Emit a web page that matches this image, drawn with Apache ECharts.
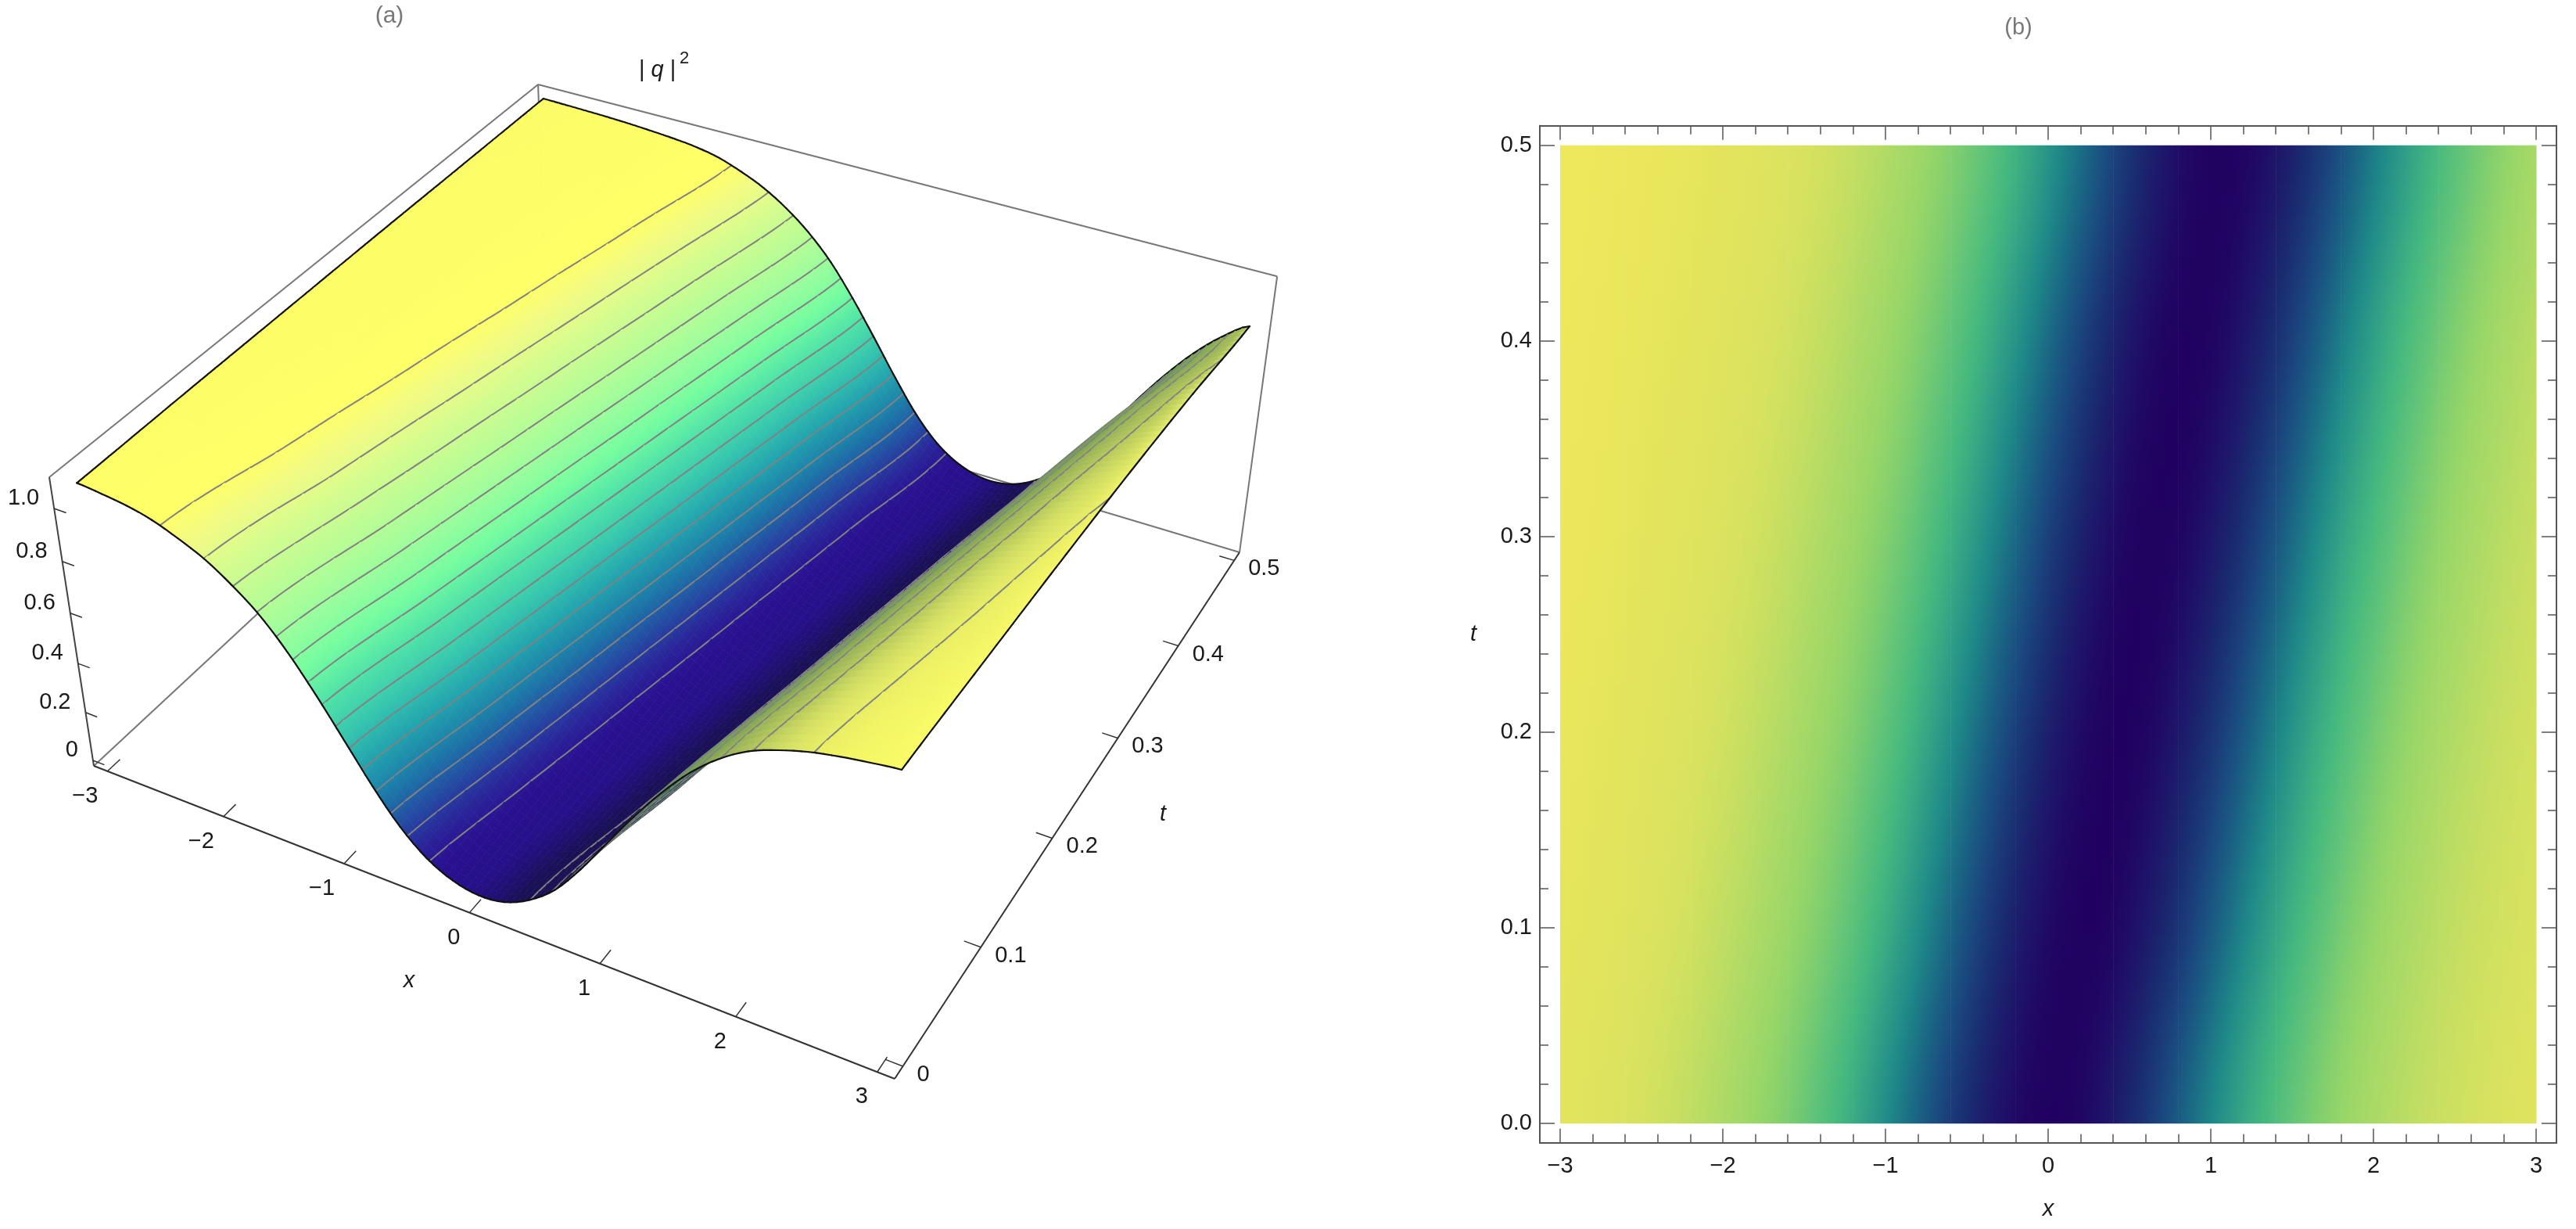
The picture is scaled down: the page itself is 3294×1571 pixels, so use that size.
<!DOCTYPE html>
<html>
<head>
<meta charset="utf-8">
<title>|q|^2 surface and density</title>
<script src="https://cdn.jsdelivr.net/npm/echarts@6/dist/echarts.min.js"></script>
<style>
    html, body { margin: 0; padding: 0; background: #fff; }
    #chart { width: 3294px; height: 1571px; }
</style>
</head>
<body>
<div id="chart"></div>
<script>
// values: |q|^2 on x (columns) and t (rows)
const xCols = [-3, -2.8, -2.6, -2.4, -2.2, -2, -1.8, -1.6, -1.4, -1.2, -1, -0.8, -0.6, -0.4, -0.2, 0, 0.2, 0.4, 0.6, 0.8, 1, 1.2, 1.4, 1.6, 1.8, 2, 2.2, 2.4, 2.6, 2.8, 3]
const tRows = [0, 0.1, 0.2, 0.3, 0.4, 0.5]
const qAtT00 = [1.079, 1.070, 1.058, 1.036, 1.000, 0.956, 0.893, 0.815, 0.709, 0.579, 0.436, 0.291, 0.165, 0.075, 0.023, 0.003, 0.016, 0.066, 0.148, 0.271, 0.414, 0.555, 0.684, 0.797, 0.885, 0.950, 0.991, 1.022, 1.043, 1.059, 1.072]
const qAtT01 = [1.085, 1.079, 1.071, 1.059, 1.038, 1.002, 0.959, 0.896, 0.819, 0.715, 0.586, 0.444, 0.299, 0.171, 0.079, 0.025, 0.004, 0.015, 0.063, 0.143, 0.265, 0.407, 0.548, 0.678, 0.792, 0.881, 0.947, 0.990, 1.021, 1.042, 1.058]
const qAtT02 = [1.089, 1.085, 1.079, 1.071, 1.060, 1.039, 1.004, 0.961, 0.900, 0.823, 0.720, 0.592, 0.451, 0.306, 0.177, 0.083, 0.027, 0.004, 0.014, 0.060, 0.139, 0.258, 0.399, 0.541, 0.671, 0.787, 0.877, 0.944, 0.988, 1.020, 1.041]
const qAtT03 = [1.093, 1.090, 1.085, 1.079, 1.072, 1.060, 1.040, 1.006, 0.963, 0.903, 0.827, 0.726, 0.599, 0.458, 0.313, 0.183, 0.087, 0.029, 0.005, 0.013, 0.057, 0.134, 0.251, 0.392, 0.534, 0.665, 0.781, 0.873, 0.941, 0.986, 1.018]
const qAtT04 = [1.095, 1.093, 1.090, 1.085, 1.080, 1.072, 1.061, 1.041, 1.008, 0.965, 0.907, 0.831, 0.732, 0.606, 0.465, 0.320, 0.189, 0.091, 0.031, 0.005, 0.012, 0.054, 0.130, 0.244, 0.385, 0.527, 0.659, 0.776, 0.869, 0.938, 0.984]
const qAtT05 = [1.097, 1.095, 1.093, 1.090, 1.086, 1.080, 1.073, 1.062, 1.043, 1.010, 0.968, 0.910, 0.835, 0.738, 0.613, 0.473, 0.328, 0.195, 0.095, 0.034, 0.006, 0.011, 0.051, 0.125, 0.238, 0.378, 0.520, 0.653, 0.770, 0.865, 0.935]
const qRows = [qAtT00, qAtT01, qAtT02, qAtT03, qAtT04, qAtT05]

const contourLevels = [0.068, 0.137, 0.205, 0.274, 0.342, 0.410, 0.479, 0.547, 0.615, 0.684, 0.752, 0.821, 0.889, 0.957, 1.026]

const xTicks = [-3, -2, -1, 0, 1, 2, 3]
const xTickLabels = ['\u22123', '\u22122', '\u22121', '0', '1', '2', '3']
const tTicks = [0, 0.1, 0.2, 0.3, 0.4, 0.5]
const tTickLabels = ['0', '0.1', '0.2', '0.3', '0.4', '0.5']
const zTicks = [0, 0.2, 0.4, 0.6, 0.8, 1]
const zTickLabels = ['0', '0.2', '0.4', '0.6', '0.8', '1.0']
const xMinorTicks = Array.from({ length: 31 }, (_, k) => -3 + k * 0.2)
const tMinorTicks = Array.from({ length: 26 }, (_, k) => k * 0.02)

// colour ramps, [value, colour]
const heatRamp = [[0, '#200060'], [0.04, '#1f1068'], [0.11, '#1a2a70'], [0.22, '#1a4c80'], [0.3, '#1a6484'], [0.425, '#1f8a88'], [0.55, '#35a585'], [0.64, '#45b87f'], [0.74, '#62c478'], [0.89, '#98d668'], [0.96, '#aeda66'], [1.035, '#cfe060'], [1.05, '#d6e260'], [1.08, '#e3e45c'], [1.097, '#eee85c']]
const litRamp = [[0, '#26108a'], [0.05, '#2a1090'], [0.1, '#2a249a'], [0.18, '#2353a4'], [0.25, '#1c7aa8'], [0.35, '#22a4ae'], [0.45, '#38c8ae'], [0.55, '#50e3a8'], [0.65, '#76fda0'], [0.75, '#9cfd9c'], [0.92, '#d3fc8f'], [0.99, '#f2fb83'], [1.03, '#ffff66'], [1.1, '#ffff66']]
const shadeRamp = [[0.02, '#1a1058'], [0.15, '#1a1050'], [0.3, '#26484f'], [0.5, '#3f7f50'], [0.7, '#5f9455'], [0.85, '#86a856'], [0.93, '#a6bc5a'], [1, '#cfdb5e'], [1.04, '#e4e964'], [1.075, '#f4f866']]

const FONT = '"Liberation Sans", Arial, sans-serif'
const INK = '#1a1a1a'

// box of panel (a) in data units, and the camera that flattens it onto the page
const xLo = -3.12, xHi = 3.12, tLo = -0.01, tHi = 0.51, zLo = -0.0232, zHi = 1.116
const camX = [890.8, 728.4, -61.4, 120]
const camY = [239.4, -443.8, -411.7, 979]
const camW = [-0.11644, 0.21371, -0.06994, 1]

const project = (x, t, z) => {
    const u = (x - xLo) / (xHi - xLo)
    const v = (t - tLo) / (tHi - tLo)
    const w = (z - zLo) / (zHi - zLo)
    const apply = c => c[0] * u + c[1] * v + c[2] * w + c[3]
    const d = apply(camW)
    return [apply(camX) / d, apply(camY) / d]
}

const clamp = (v, lo, hi) => Math.max(lo, Math.min(hi, v))

const catmull = (p0, p1, p2, p3, a) =>
    p1 + 0.5 * a * (p2 - p0 + a * (2 * p0 - 5 * p1 + 4 * p2 - p3 + a * (3 * (p1 - p2) + p3 - p0)))

// shading lookup between the values that were read
const qAt = (x, t) => {
    const fx = clamp((x + 3) / 0.2, 0, 30)
    const i = Math.min(Math.floor(fx), 29)
    const ft = clamp(t / 0.1, 0, 5)
    const j = Math.min(Math.floor(ft), 4)
    const rowAt = r => {
        const row = qRows[clamp(r, 0, 5)]
        return catmull(row[Math.max(i - 1, 0)], row[i], row[i + 1], row[Math.min(i + 2, 30)], fx - i)
    }
    return catmull(rowAt(j - 1), rowAt(j), rowAt(j + 1), rowAt(j + 2), ft - j)
}

const rampColor = (ramp, value) => {
    if (value <= ramp[0][0]) return ramp[0][1]
    for (let k = 1; k < ramp.length; k++) {
        if (value <= ramp[k][0]) {
            const f = (value - ramp[k - 1][0]) / (ramp[k][0] - ramp[k - 1][0])
            return echarts.color.lerp(f, [ramp[k - 1][1], ramp[k][1]])
        }
    }
    return ramp[ramp.length - 1][1]
}

const surfaceColor = (x, t) => {
    const z = qAt(x, t)
    const slope = (qAt(x + 0.03, t) - qAt(x - 0.03, t)) / 0.06
    const lit = clamp((0.22 - slope) / 0.3, 0, 1)
    return echarts.color.lerp(lit, [rampColor(shadeRamp, z), rampColor(litRamp, z)])
}

const heatCells = []
const surfaceCells = []
for (let j = 4; j >= 0; j--) {
    for (let i = 0; i < 30; i++) {
        const cell = [xCols[i], tRows[j], qRows[j][i], i, j]
        heatCells.push(cell)
        surfaceCells.push(cell)
    }
}

const renderHeatCell = (params, api) => {
    const x0 = api.value(0)
    const t0 = api.value(1)
    const strips = 25
    const dt = 0.1 / strips
    const children = []
    for (let s = 0; s < strips; s++) {
        const tMid = t0 + (s + 0.5) * dt
        const colorStops = [0, 0.25, 0.5, 0.75, 1].map(f => ({ offset: f, color: rampColor(heatRamp, qAt(x0 + f * 0.2, tMid)) }))
        const a = api.coord([x0, t0 + (s + 1) * dt])
        const b = api.coord([x0 + 0.2, t0 + s * dt])
        children.push({
            type: 'rect',
            shape: { x: a[0], y: a[1], width: b[0] - a[0] + 0.5, height: b[1] - a[1] + 0.5 },
            style: { fill: new echarts.graphic.LinearGradient(0, 0, 1, 0, colorStops) },
        })
    }
    return { type: 'group', children }
}

const renderSurfaceCell = (params, api) => {
    const x0 = api.value(0)
    const t0 = api.value(1)
    const i = api.value(3)
    const j = api.value(4)
    const nx = 4
    const nt = 14
    const dx = 0.2 / nx
    const dt = 0.1 / nt
    const page = (x, t, z) => api.coord(project(x, t, z))
    const edge = (a, b) => ({
        type: 'line',
        shape: { x1: a[0], y1: a[1], x2: b[0], y2: b[1] },
        style: { stroke: '#111', lineWidth: 2.2, lineCap: 'round' },
    })
    const children = []
    for (let a = nt - 1; a >= 0; a--) {
        for (let b = 0; b < nx; b++) {
            const xa = x0 + b * dx
            const xb = xa + dx
            const ta = t0 + a * dt
            const tb = ta + dt
            const tm = (ta + tb) / 2
            // corners run round the quad: near left, near right, far right, far left
            const corners = [[xa, ta], [xb, ta], [xb, tb], [xa, tb]].map(c => [c[0], c[1], qAt(c[0], c[1])])
            const pts = corners.map(c => page(c[0], c[1], c[2]))
            const from = page(xa, tm, qAt(xa, tm))
            const to = page(xb, tm, qAt(xb, tm))
            const fill = new echarts.graphic.LinearGradient(from[0], from[1], to[0], to[1], [
                { offset: 0, color: surfaceColor(xa, tm) },
                { offset: 1, color: surfaceColor(xb, tm) },
            ], true)
            children.push({
                type: 'polygon',
                shape: { points: pts },
                style: { fill, stroke: fill, lineWidth: 0.8 },
            })
            contourLevels.forEach(level => {
                const hits = []
                for (let k = 0; k < 4; k++) {
                    const p = corners[k]
                    const q = corners[(k + 1) % 4]
                    if ((p[2] - level) * (q[2] - level) < 0) {
                        const f = (level - p[2]) / (q[2] - p[2])
                        hits.push(page(p[0] + f * (q[0] - p[0]), p[1] + f * (q[1] - p[1]), level))
                    }
                }
                if (hits.length >= 2) {
                    children.push({
                        type: 'line',
                        shape: { x1: hits[0][0], y1: hits[0][1], x2: hits[1][0], y2: hits[1][1] },
                        style: { stroke: '#828282', lineWidth: 2, lineCap: 'round' },
                    })
                }
            })
            if (j === 4 && a === nt - 1) children.push(edge(pts[3], pts[2]))
            if (j === 0 && a === 0) children.push(edge(pts[0], pts[1]))
            if (i === 0 && b === 0) children.push(edge(pts[0], pts[3]))
            if (i === 29 && b === nx - 1) children.push(edge(pts[1], pts[2]))
        }
    }
    return { type: 'group', children }
}

// edges of the box: from, to, colour
const boxEdges = [
    [[xLo, tHi, zLo], [xLo, tLo, zLo], '#777'],
    [[xLo, tHi, zLo], [xHi, tHi, zLo], '#777'],
    [[xLo, tHi, zLo], [xLo, tHi, zHi], '#777'],
    [[xLo, tHi, zHi], [xLo, tLo, zHi], '#777'],
    [[xLo, tHi, zHi], [xHi, tHi, zHi], '#777'],
    [[xHi, tHi, zLo], [xHi, tHi, zHi], '#777'],
    [[xLo, tLo, zLo], [xLo, tLo, zHi], '#444'],
    [[xLo, tLo, zLo], [xHi, tLo, zLo], '#333'],
    [[xHi, tLo, zLo], [xHi, tHi, zLo], '#333'],
]

const onPlane = { xAxisIndex: 0, yAxisIndex: 0, silent: true, clip: false, progressive: 0 }

const boxSeries = {
    ...onPlane,
    type: 'custom',
    data: boxEdges.map((e, k) => [k]),
    renderItem: (params, api) => {
        const edge = boxEdges[api.value(0)]
        const a = api.coord(project(...edge[0]))
        const b = api.coord(project(...edge[1]))
        return {
            type: 'line',
            shape: { x1: a[0], y1: a[1], x2: b[0], y2: b[1] },
            style: { stroke: edge[2], lineWidth: 2 },
        }
    },
}

const tickSeries = (values, labels, from, to, label) => ({
    ...onPlane,
    type: 'custom',
    data: values.map((v, k) => [v, k]),
    renderItem: (params, api) => {
        const v = api.value(0)
        const a = api.coord(project(...from(v)))
        const b = api.coord(project(...to(v)))
        return {
            type: 'group',
            children: [
                {
                    type: 'line',
                    shape: { x1: a[0], y1: a[1], x2: b[0], y2: b[1] },
                    style: { stroke: '#333', lineWidth: 1.5 },
                },
                {
                    type: 'text',
                    style: {
                        x: a[0] + label.dx,
                        y: a[1] + label.dy,
                        text: labels[api.value(1)],
                        fill: INK,
                        fontFamily: FONT,
                        fontSize: 29,
                        align: label.align,
                        verticalAlign: 'middle',
                    },
                },
            ],
        }
    },
})

const plainAxis = {
    axisLine: { show: false },
    axisTick: { show: false },
    axisLabel: { show: false },
    splitLine: { show: false },
}
const hiddenX = { ...plainAxis, type: 'value', gridIndex: 0, min: 0, max: 1700, show: false }
const hiddenY = { ...plainAxis, type: 'value', gridIndex: 0, min: 0, max: 1571, inverse: true, show: false }

const frameLine = { show: true, onZero: false, lineStyle: { color: '#555', width: 2 } }
const tickLine = (values, length) => ({
    show: true,
    inside: true,
    length,
    customValues: values,
    lineStyle: { color: '#555', width: 1.5 },
})
const frameX = (position, values, length, labels) => ({
    type: 'value',
    gridIndex: 1,
    position,
    min: -3.125,
    max: 3.125,
    axisLine: frameLine,
    axisTick: tickLine(values, length),
    splitLine: { show: false },
    axisLabel: labels || { show: false },
})
const frameY = (position, values, length, labels) => ({
    type: 'value',
    gridIndex: 1,
    position,
    min: -0.01,
    max: 0.51,
    axisLine: frameLine,
    axisTick: tickLine(values, length),
    splitLine: { show: false },
    axisLabel: labels || { show: false },
})

const chart = echarts.init(document.getElementById('chart'))

chart.setOption({
    animation: false,
    backgroundColor: '#fff',
    grid: [
        { left: 0, top: 0, width: 1700, height: 1571 },
        { left: 1969, top: 160.7, width: 1300, height: 1300 },
    ],
    xAxis: [
        hiddenX,
        {
            ...frameX('bottom', xTicks, 18, {
                show: true,
                customValues: xTicks,
                margin: 16,
                color: INK,
                fontFamily: FONT,
                fontSize: 29,
                formatter: v => xTickLabels[xTicks.indexOf(v)],
            }),
            name: 'x',
            nameLocation: 'middle',
            nameGap: 85,
            nameTextStyle: { color: INK, fontFamily: FONT, fontSize: 29, fontStyle: 'italic', verticalAlign: 'middle' },
        },
        frameX('bottom', xMinorTicks, 11),
        frameX('top', xTicks, 18),
        frameX('top', xMinorTicks, 11),
    ],
    yAxis: [
        hiddenY,
        {
            ...frameY('left', tTicks, 19, {
                show: true,
                customValues: tTicks,
                margin: 10,
                color: INK,
                fontFamily: FONT,
                fontSize: 29,
                formatter: v => v.toFixed(1),
            }),
            name: 't',
            nameLocation: 'middle',
            nameGap: 81,
            nameRotate: 0,
            nameTextStyle: { color: INK, fontFamily: FONT, fontSize: 29, fontStyle: 'italic', verticalAlign: 'middle', padding: [0, 0, 20, 0] },
        },
        frameY('left', tMinorTicks, 11),
        frameY('right', tTicks, 19),
        frameY('right', tMinorTicks, 11),
    ],
    graphic: [
        { type: 'text', x: 498, y: 21, style: { text: '(a)', fill: '#777', fontFamily: FONT, fontSize: 30, align: 'center', verticalAlign: 'middle' } },
        { type: 'text', x: 2581, y: 36, style: { text: '(b)', fill: '#777', fontFamily: FONT, fontSize: 29, align: 'center', verticalAlign: 'middle' } },
        { type: 'text', x: 817, y: 90, style: { text: '| {i|q} |', fill: INK, fontFamily: FONT, fontSize: 29, verticalAlign: 'middle', rich: { i: { fontStyle: 'italic', fontFamily: FONT, fontSize: 29, fill: INK } } } },
        { type: 'text', x: 869, y: 75, style: { text: '2', fill: INK, fontFamily: FONT, fontSize: 22, verticalAlign: 'middle' } },
        { type: 'text', x: 523, y: 1254, style: { text: 'x', fill: INK, fontFamily: FONT, fontSize: 29, fontStyle: 'italic', align: 'center', verticalAlign: 'middle' } },
        { type: 'text', x: 1487, y: 1041, style: { text: 't', fill: INK, fontFamily: FONT, fontSize: 29, fontStyle: 'italic', align: 'center', verticalAlign: 'middle' } },
    ],
    series: [
        boxSeries,
        tickSeries(xTicks, xTickLabels, v => [v, tLo, zLo], v => [v, tLo + 0.012, zLo], { dx: -12, dy: 32, align: 'right' }),
        tickSeries(tTicks, tTickLabels, v => [xHi, v, zLo], v => [xHi - 0.12, v, zLo], { dx: 18, dy: 11, align: 'left' }),
        tickSeries(zTicks, zTickLabels, v => [xLo, tLo, v], v => [xLo + 0.1, tLo, v], { dx: -19, dy: -13, align: 'right' }),
        {
            ...onPlane,
            type: 'custom',
            data: surfaceCells,
            dimensions: ['x', 't', 'q', 'i', 'j'],
            renderItem: renderSurfaceCell,
        },
        {
            type: 'custom',
            xAxisIndex: 1,
            yAxisIndex: 1,
            silent: true,
            progressive: 0,
            data: heatCells,
            dimensions: ['x', 't', 'q', 'i', 'j'],
            encode: { x: 0, y: 1 },
            renderItem: renderHeatCell,
        },
    ],
})
</script>
</body>
</html>
